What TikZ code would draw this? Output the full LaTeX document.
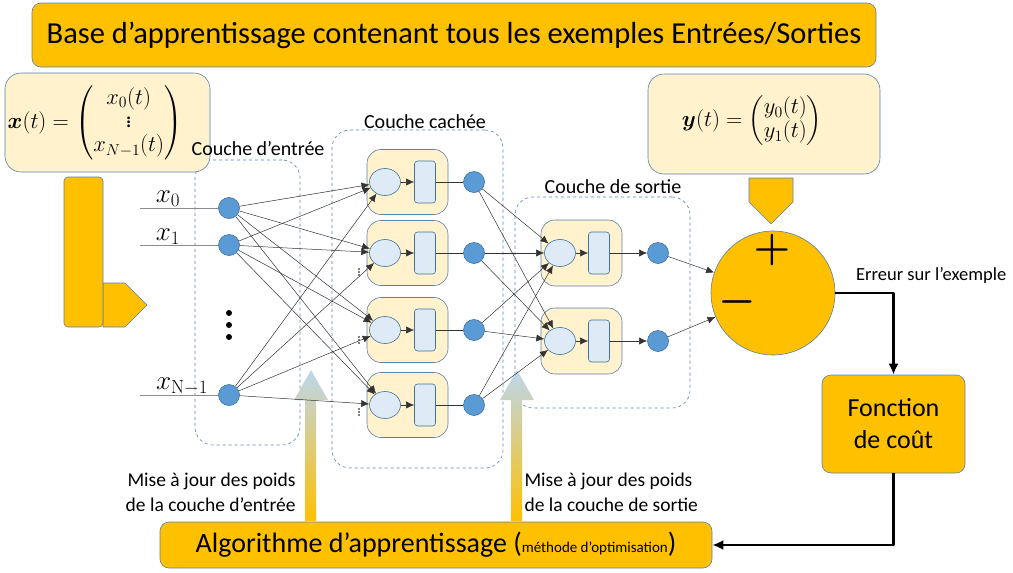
\RequirePackage{fix-cm}
\documentclass[tikz,border=0pt]{standalone}
\usepackage{amsmath}
\usepackage[no-math]{fontspec}
\setmainfont{Carlito}
\usetikzlibrary{arrows.meta,shapes.geometric}
\definecolor{boxorange}{HTML}{FFC000}
\definecolor{boxpale}{HTML}{FFF2CC}
\definecolor{boxedge}{HTML}{5B7FAE}
\definecolor{unitfill}{HTML}{5B9BD5}
\definecolor{unitedge}{HTML}{41719C}
\definecolor{cellfill}{HTML}{DEEBF7}
\definecolor{updatetop}{HTML}{BDD7EE}

\begin{document}
\begin{tikzpicture}[x=1pt, y=-1pt, line join=bevel]
  % \hsx, \hax and \hux are the x positions of the summing cell,
  % the activation cell and the output unit of a hidden neuron
  % (\osx, \oax and \oux: the same for an output neuron).
  \pgfmathsetmacro{\hsx}{385}
  \pgfmathsetmacro{\hax}{425}
  \pgfmathsetmacro{\hux}{474}
  \pgfmathsetmacro{\osx}{560}
  \pgfmathsetmacro{\oax}{599}
  \pgfmathsetmacro{\oux}{658}

  \tikzset{
    box_edges/.style={draw=boxedge,line width=0.6pt},
    orange_box/.style={box_edges,fill=boxorange,rounded corners=9pt},
    pale_box/.style={box_edges,fill=boxpale,rounded corners=16pt},
    layer_box/.style={draw=boxedge,dashed,line width=0.6pt,rounded corners=18pt},
    neuron_box/.style={box_edges,fill=boxpale,rounded corners=14pt,
      minimum width=81pt,minimum height=65pt},
    sum_cell/.style={ellipse,draw=unitedge,line width=0.6pt,fill=cellfill,
      minimum width=31pt,minimum height=27pt,inner sep=0pt},
    act_cell/.style={rectangle,rounded corners=3pt,draw=unitedge,line width=0.6pt,
      fill=cellfill,minimum width=21pt,minimum height=42pt,inner sep=0pt},
    unit/.style={circle,draw=unitedge,line width=0.6pt,fill=unitfill,
      minimum size=21pt,inner sep=0pt},
    link/.style={draw=black!80,line width=0.5pt,-{Latex[length=8pt,width=7pt]}},
    feed/.style={draw=black!45,line width=0.8pt},
    layer_label/.style={font=\fontsize{20}{24}\selectfont},
    update_label/.style={font=\fontsize{19.5}{25}\selectfont},
    formula/.style={font=\fontsize{22.5}{26}\selectfont},
    sign/.style={font=\fontsize{42}{42}\selectfont,inner sep=0pt},
    flow/.style={line width=2.2pt,-{Latex[length=11pt,width=10pt]}},
    update_arrow/.style={top color=updatetop,bottom color=boxorange,draw=none},
  }

  \useasboundingbox (0,0) rectangle (1013,573);

  % layers
  \node[layer_box,minimum width=105pt,minimum height=285pt] (inlayer) at (247.5,302.5) {};
  \node[layer_box,minimum width=171pt,minimum height=338pt] (hidlayer) at (417.5,299) {};
  \node[layer_box,minimum width=175pt,minimum height=211pt] (outlayer) at (602.5,302.5) {};

  % title and examples
  \node[orange_box,minimum width=844pt,minimum height=64pt,
    font=\fontsize{30.5}{36}\selectfont] (base) at (454,35)
    {Base d’apprentissage contenant tous les exemples Entrées/Sorties};
  \node[pale_box,minimum width=205pt,minimum height=99pt] (xbox) at (107.5,122.5) {};
  \node[formula] (xform) at (95,123)
    {\renewcommand{\arraystretch}{0.9}%
     $\boldsymbol{x}(t)=\begin{pmatrix}x_0(t)\\ \vdots\\ x_{N-1}(t)\end{pmatrix}$};
  \node[pale_box,minimum width=232pt,minimum height=100pt] (ybox) at (764,124) {};
  \node[formula] (yform) at (752,121)
    {\renewcommand{\arraystretch}{0.9}%
     $\boldsymbol{y}(t)=\begin{pmatrix}y_0(t)\\ y_1(t)\end{pmatrix}$};

  \node[layer_label] (inlabel) at (258,149) {Couche d’entrée};
  \node[layer_label] (hidlabel) at (425,122) {Couche cachée};
  \node[layer_label] (outlabel) at (613,187) {Couche de sortie};

  % bent arrow from the inputs, and arrow from the targets
  \draw[box_edges,fill=boxorange] (103,283) -- (125,283) -- (147,305) -- (125,327)
    -- (103,327) -- cycle;
  \draw[box_edges,fill=boxorange,rounded corners=4pt] (64,177) rectangle (103,327);
  \draw[box_edges,fill=boxorange] (749,178) -- (793,178) -- (793,202) -- (771,224)
    -- (749,202) -- cycle;

  % input units
  \foreach \n/\y/\lx/\ly/\txt in {0/208/168/199/x_{0}, 1/245/168/237/x_{1},
                                  2/395/182/386/x_{\mathrm{N}-1}}{
    \coordinate (src\n) at (140,\y);
    \node[unit] (in\n) at (229,\y) {};
    \node[font=\fontsize{27}{30}\selectfont,inner sep=0pt] (lab\n) at (\lx,\ly) {$\txt$};
    \draw[feed] (src\n) -- (in\n);
  }
  \foreach \d in {313,325,337}
    \fill (229,\d) circle (3pt);

  % hidden neurons
  \foreach \h/\y in {1/182,2/253,3/330,4/405}{
    \node[neuron_box] (hbox\h) at (407.5,\y) {};
    \node[sum_cell] (hsum\h) at (\hsx,\y) {};
    \node[act_cell] (hact\h) at (\hax,\y) {};
    \node[unit] (hout\h) at (\hux,\y) {};
    \draw[link] (hsum\h) -- (hact\h);
    \draw[draw=black!80,line width=0.6pt] (hact\h) -- (hout\h);
  }
  \foreach \y in {272,340,412}
    \foreach \d in {-3,0,3}
      \fill (359,\y+\d) circle (0.9pt);

  % output neurons
  \foreach \o/\y in {1/253,2/341}{
    \node[neuron_box,minimum height=66pt] (obox\o) at (581.5,\y) {};
    \node[sum_cell] (osum\o) at (\osx,\y) {};
    \node[act_cell] (oact\o) at (\oax,\y) {};
    \node[unit] (oout\o) at (\oux,\y) {};
    \draw[link] (osum\o) -- (oact\o);
    \draw[link] (oact\o) -- (oout\o);
  }

  % weight updates
  \shade[update_arrow] (305,521) -- (305,400) -- (294,400) -- (311,370) -- (328,400)
    -- (316,400) -- (316,521) -- cycle;
  \shade[update_arrow] (511,521) -- (511,400) -- (500,400) -- (517,370) -- (534,400)
    -- (522,400) -- (522,521) -- cycle;
  \node[update_label,align=right,anchor=east] (updin) at (299,492)
    {Mise à jour des poids\\de la couche d’entrée};
  \node[update_label,align=left,anchor=west] (updout) at (521,492)
    {Mise à jour des poids\\de la couche de sortie};

  % connections
  \foreach \n in {0,1,2}
    \foreach \h in {1,...,4}
      \draw[link] (in\n) -- (hsum\h);
  \foreach \h in {1,...,4}
    \foreach \o in {1,2}
      \draw[link] (hout\h) -- (osum\o);

  % error and learning loop
  \node[circle,box_edges,fill=boxorange,minimum size=124pt] (diff) at (773,293) {};
  \node[sign] (plus) at (772,250) {$\boldsymbol{+}$};
  \node[sign] (minus) at (737,302) {$\boldsymbol{-}$};
  \foreach \o in {1,2}
    \draw[link] (oout\o) -- (diff);
  \node[font=\fontsize{18.5}{22}\selectfont,anchor=west,inner sep=0pt] (errlabel)
    at (856,275) {Erreur sur l’exemple};
  \node[orange_box,minimum width=143pt,minimum height=98pt,align=center,
    font=\fontsize{26}{32}\selectfont] (cost) at (893.5,424) {Fonction\\de coût};
  \node[orange_box,minimum width=552pt,minimum height=46pt,
    font=\fontsize{28}{32}\selectfont] (algo) at (436,545)
    {Algorithme d’apprentissage ({\fontsize{15}{17}\selectfont méthode d’optimisation})};
  \draw[flow] (diff.east) -| (cost.north);
  \draw[flow] (cost.south) |- (algo.east);
\end{tikzpicture}
\end{document}
